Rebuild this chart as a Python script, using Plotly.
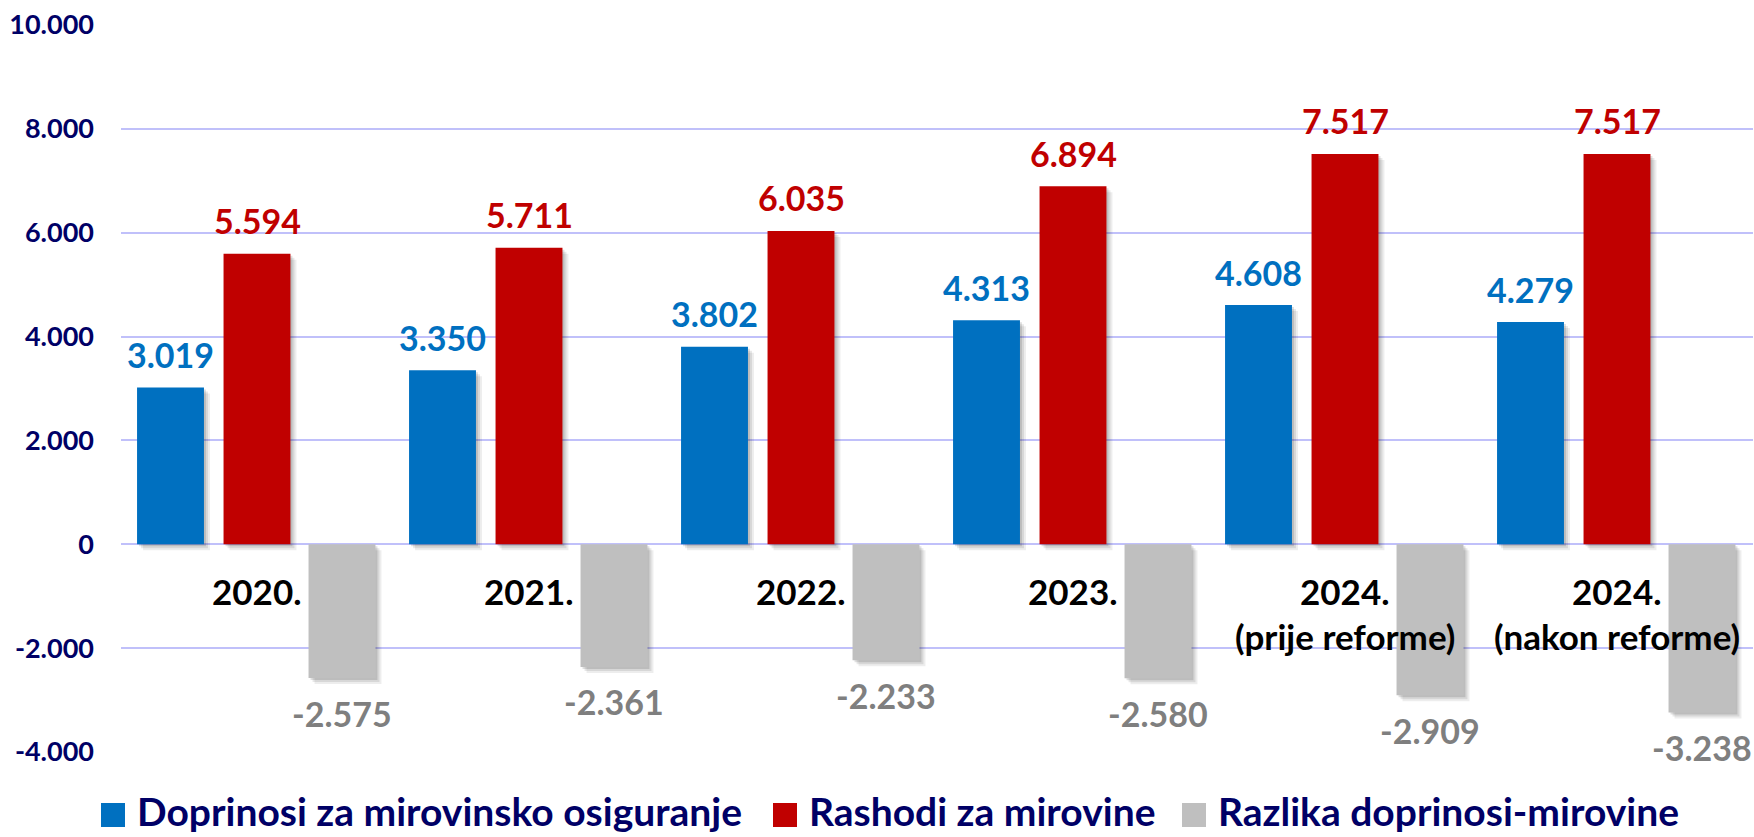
import plotly.graph_objects as go

# ---------------- data ----------------
categories = ["2020.", "2021.", "2022.", "2023.", "2024.\n(prije reforme)", "2024.\n(nakon reforme)"]
contributions = [3019, 3350, 3802, 4313, 4608, 4279]
expenditures = [5594, 5711, 6035, 6894, 7517, 7517]
difference = [-2575, -2361, -2233, -2580, -2909, -3238]
series_names = ["Doprinosi za mirovinsko osiguranje", "Rashodi za mirovine", "Razlika doprinosi-mirovine"]
y_tick_values = [-4000, -2000, 0, 2000, 4000, 6000, 8000, 10000]
y_tick_labels = ["-4.000", "-2.000", "0", "2.000", "4.000", "6.000", "8.000", "10.000"]

# ---------------- style ----------------
W, H = 1754, 837
ML, MR, MT, MB = 121, 1, 25, 85
PW, PH = W - ML - MR, H - MT - MB
Y_MIN, Y_MAX = -4000, 10000
UNITS_PER_PX = (Y_MAX - Y_MIN) / PH
CAT_PX = PW / len(categories)

colors = ["#0070C0", "#C00000", "#BFBFBF"]
label_colors = ["#0070C0", "#C00000", "#7F7F7F"]
navy = "#000066"
FONT = "Lato"
bar_w = 0.246
centers = [-0.318, 0.0, 0.3125]

def fmt(v):
    return f"{v:,}".replace(",", ".")

def paper_x(px):
    return (px - ML) / PW

def paper_y(py):
    return (H - MB - py) / PH

series = [contributions, expenditures, difference]
xs = list(range(len(categories)))

fig = go.Figure()

# soft drop shadows (layers offset down-right)
for d, a in [(6, 0.07), (4, 0.09), (2, 0.12)]:
    for vals, c in zip(series, centers):
        fig.add_trace(go.Bar(
            x=xs, y=vals, base=[-d * UNITS_PER_PX] * len(vals),
            width=bar_w, offset=c - bar_w / 2 + d / CAT_PX,
            marker=dict(color=f"rgba(0,0,0,{a})", line=dict(width=0)),
            showlegend=False, hoverinfo="skip",
        ))

for vals, c, col, name in zip(series, centers, colors, series_names):
    fig.add_trace(go.Bar(
        x=xs, y=vals, width=bar_w, offset=c - bar_w / 2,
        marker=dict(color=col, line=dict(width=0)),
        name=name, showlegend=False,
    ))

annotations = []
# value labels
for vals, c, lc in zip(series, centers, label_colors):
    for i, v in enumerate(vals):
        annotations.append(dict(
            x=i + c, y=v, xref="x", yref="y", text=fmt(v), showarrow=False,
            yanchor="middle", xanchor="center", yshift=33 if v > 0 else -35,
            font=dict(family=FONT, size=34, color=lc, weight="bold"),
        ))

# category labels below the zero line
for i, cat in enumerate(categories):
    for j, line in enumerate(cat.split("\n")):
        annotations.append(dict(
            x=i, y=0, xref="x", yref="y", text=line, showarrow=False,
            yanchor="middle", xanchor="center", yshift=-47 - 45 * j,
            font=dict(family=FONT, size=35, color="black", weight="bold"),
        ))

# custom legend
legend_square_px = [101, 773, 1182]
shapes = []
for name, col, sx in zip(series_names, colors, legend_square_px):
    shapes.append(dict(
        type="rect", xref="paper", yref="paper",
        x0=paper_x(sx), x1=paper_x(sx + 24), y0=paper_y(827), y1=paper_y(803),
        fillcolor=col, line=dict(width=0),
    ))
    annotations.append(dict(
        x=paper_x(sx + 34), y=paper_y(811), xref="paper", yref="paper",
        text=name, showarrow=False, xanchor="left", yanchor="middle",
        font=dict(family=FONT, size=39, color=navy, weight="bold"),
    ))

fig.update_layout(
    width=W, height=H,
    margin=dict(l=ML, r=MR, t=MT, b=MB),
    plot_bgcolor="white", paper_bgcolor="white",
    barmode="overlay",
    annotations=annotations,
    shapes=shapes,
    xaxis=dict(range=[-0.5, len(categories) - 0.5], showticklabels=False,
               showgrid=False, zeroline=False, showline=False, ticks=""),
    yaxis=dict(range=[Y_MIN, Y_MAX], tickvals=y_tick_values, ticktext=y_tick_labels,
               showgrid=True, gridcolor="#C0C0FA", gridwidth=2,
               zeroline=True, zerolinecolor="#C0C0FA", zerolinewidth=2,
               showline=False, ticks="", ticklabelstandoff=26,
               tickfont=dict(family=FONT, size=27, color=navy, weight="bold")),
    showlegend=False,
)

fig.write_html(
    "out.html",
    config={"displayModeBar": False},
    post_script="document.body.style.margin='0';document.body.style.overflow='hidden';",
)
